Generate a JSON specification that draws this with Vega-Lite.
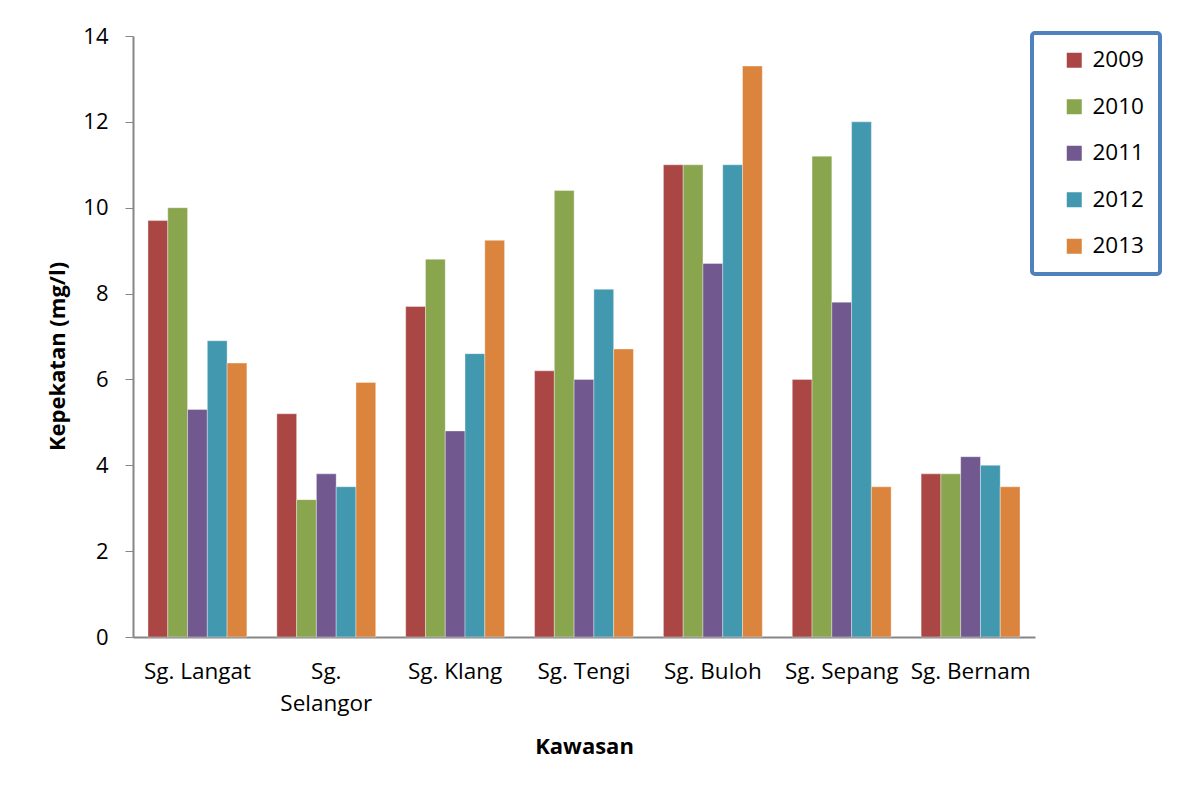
{
  "$schema": "https://vega.github.io/schema/vega-lite/v6.json",
  "width": 902,
  "height": 601,
  "autosize": {"type": "none"},
  "padding": {"left": 133, "top": 36, "right": 143, "bottom": 152},
  "background": "white",
  "config": {
    "view": {"stroke": null},
    "font": "Open Sans",
    "axis": {"grid": false, "domainColor": "#868686", "tickColor": "#868686", "labelColor": "#000000", "titleColor": "#000000", "labelFont": "Open Sans", "titleFont": "Open Sans"},
    "legend": {"strokeWidth": 4}
  },
  "data": {
    "values": [
      {"kawasan": "Sg. Langat", "tahun": "2009", "nilai": 9.7},
      {"kawasan": "Sg. Langat", "tahun": "2010", "nilai": 10.0},
      {"kawasan": "Sg. Langat", "tahun": "2011", "nilai": 5.3},
      {"kawasan": "Sg. Langat", "tahun": "2012", "nilai": 6.9},
      {"kawasan": "Sg. Langat", "tahun": "2013", "nilai": 6.38},
      {"kawasan": "Sg. Selangor", "tahun": "2009", "nilai": 5.2},
      {"kawasan": "Sg. Selangor", "tahun": "2010", "nilai": 3.2},
      {"kawasan": "Sg. Selangor", "tahun": "2011", "nilai": 3.8},
      {"kawasan": "Sg. Selangor", "tahun": "2012", "nilai": 3.5},
      {"kawasan": "Sg. Selangor", "tahun": "2013", "nilai": 5.93},
      {"kawasan": "Sg. Klang", "tahun": "2009", "nilai": 7.7},
      {"kawasan": "Sg. Klang", "tahun": "2010", "nilai": 8.8},
      {"kawasan": "Sg. Klang", "tahun": "2011", "nilai": 4.8},
      {"kawasan": "Sg. Klang", "tahun": "2012", "nilai": 6.6},
      {"kawasan": "Sg. Klang", "tahun": "2013", "nilai": 9.24},
      {"kawasan": "Sg. Tengi", "tahun": "2009", "nilai": 6.2},
      {"kawasan": "Sg. Tengi", "tahun": "2010", "nilai": 10.4},
      {"kawasan": "Sg. Tengi", "tahun": "2011", "nilai": 6.0},
      {"kawasan": "Sg. Tengi", "tahun": "2012", "nilai": 8.1},
      {"kawasan": "Sg. Tengi", "tahun": "2013", "nilai": 6.71},
      {"kawasan": "Sg. Buloh", "tahun": "2009", "nilai": 11.0},
      {"kawasan": "Sg. Buloh", "tahun": "2010", "nilai": 11.0},
      {"kawasan": "Sg. Buloh", "tahun": "2011", "nilai": 8.7},
      {"kawasan": "Sg. Buloh", "tahun": "2012", "nilai": 11.0},
      {"kawasan": "Sg. Buloh", "tahun": "2013", "nilai": 13.3},
      {"kawasan": "Sg. Sepang", "tahun": "2009", "nilai": 6.0},
      {"kawasan": "Sg. Sepang", "tahun": "2010", "nilai": 11.2},
      {"kawasan": "Sg. Sepang", "tahun": "2011", "nilai": 7.8},
      {"kawasan": "Sg. Sepang", "tahun": "2012", "nilai": 12.0},
      {"kawasan": "Sg. Sepang", "tahun": "2013", "nilai": 3.5},
      {"kawasan": "Sg. Bernam", "tahun": "2009", "nilai": 3.8},
      {"kawasan": "Sg. Bernam", "tahun": "2010", "nilai": 3.8},
      {"kawasan": "Sg. Bernam", "tahun": "2011", "nilai": 4.2},
      {"kawasan": "Sg. Bernam", "tahun": "2012", "nilai": 4.0},
      {"kawasan": "Sg. Bernam", "tahun": "2013", "nilai": 3.5}
    ]
  },
  "mark": {"type": "bar", "stroke": "white", "strokeWidth": 0.6, "strokeOpacity": 0.6},
  "encoding": {
    "x": {
      "field": "kawasan",
      "type": "nominal",
      "sort": ["Sg. Langat", "Sg. Selangor", "Sg. Klang", "Sg. Tengi", "Sg. Buloh", "Sg. Sepang", "Sg. Bernam"],
      "scale": {"paddingInner": 0.2327, "paddingOuter": 0.1164},
      "axis": {
        "title": "Kawasan",
        "titleFontSize": 22,
        "titleFontWeight": "bold",
        "titlePadding": 22,
        "labelAngle": 0,
        "labelFontSize": 22.5,
        "labelPadding": 23,
        "labelLineHeight": 32,
        "labelExpr": "datum.value == 'Sg. Selangor' ? ['Sg.', 'Selangor'] : datum.value",
        "ticks": false,
        "domainWidth": 2
      }
    },
    "xOffset": {"field": "tahun", "type": "nominal"},
    "y": {
      "field": "nilai",
      "type": "quantitative",
      "scale": {"domain": [0, 14], "nice": false},
      "axis": {
        "title": "Kepekatan (mg/l)",
        "titleFontSize": 22,
        "titleFontWeight": "bold",
        "titlePadding": 13,
        "titleY": 320,
        "values": [0, 2, 4, 6, 8, 10, 12, 14],
        "labelFontSize": 22,
        "labelPadding": 17,
        "tickSize": 8,
        "domainWidth": 2
      }
    },
    "color": {
      "field": "tahun",
      "type": "nominal",
      "scale": {"domain": ["2009", "2010", "2011", "2012", "2013"], "range": ["#AA4643", "#89A54E", "#71588F", "#4198AF", "#DB843D"]},
      "legend": {
        "title": null,
        "orient": "none",
        "legendX": 899,
        "legendY": -3,
        "padding": 16,
        "symbolOffset": 15,
        "symbolType": "square",
        "symbolSize": 225,
        "symbolStrokeWidth": 0,
        "labelFontSize": 22.5,
        "labelOffset": 7,
        "rowPadding": 23.5,
        "strokeColor": "#4F81BD",
        "cornerRadius": 3,
        "fillColor": "white"
      }
    }
  }
}
